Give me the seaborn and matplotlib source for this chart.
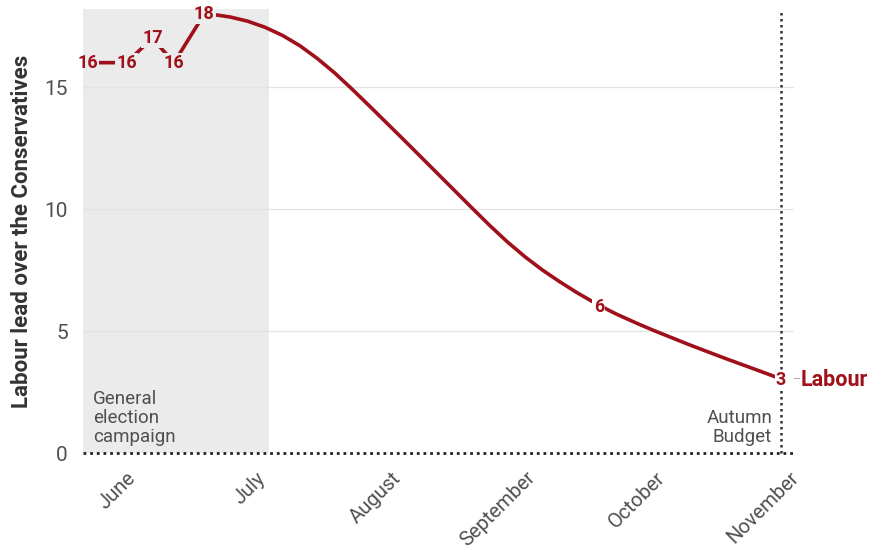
import matplotlib
matplotlib.use("Agg")
import matplotlib.pyplot as plt
import seaborn as sns
import pandas as pd

# ---- data ----
dates = ["2024-05-23", "2024-06-01", "2024-06-07", "2024-06-12", "2024-06-19",
         "2024-06-22", "2024-06-25", "2024-06-29", "2024-07-03", "2024-07-07",
         "2024-07-11", "2024-07-15", "2024-07-19", "2024-07-23", "2024-07-27",
         "2024-07-31", "2024-08-04", "2024-08-08", "2024-08-12", "2024-08-16",
         "2024-08-20", "2024-08-24", "2024-08-28", "2024-09-01", "2024-09-05",
         "2024-09-09", "2024-09-13", "2024-09-18", "2024-09-22", "2024-09-27",
         "2024-10-01", "2024-10-09", "2024-10-17", "2024-10-25", "2024-10-30"]
lead = [16, 16, 17, 16, 18,
        17.95, 17.87, 17.70, 17.45, 17.12,
        16.70, 16.18, 15.59, 14.93, 14.24,
        13.54, 12.84, 12.13, 11.42, 10.71,
        10.0, 9.30, 8.64, 8.04, 7.50,
        7.02, 6.57, 6.06, 5.70, 5.30,
        5.0, 4.43, 3.89, 3.37, 3.04]
label_dates = ["2024-05-23", "2024-06-01", "2024-06-07", "2024-06-12",
               "2024-06-19", "2024-09-18", "2024-10-30"]
label_values = [16, 16, 17, 16, 18, 6, 3]
month_ticks = ["2024-06-01", "2024-07-01", "2024-08-01", "2024-09-01",
               "2024-10-01", "2024-11-01"]
month_labels = ["June", "July", "August", "September", "October", "November"]
campaign_start = "2024-05-22"
campaign_end = "2024-07-04"
budget_date = "2024-10-30"
x_start, x_end = "2024-05-22", "2024-11-02"
y_ticks = [0, 5, 10, 15]
series_name = "Labour"
y_title = "Labour lead over the Conservatives"

RED = "#a0101a"
GREY_BG = "#ebebeb"
TXT = "#505050"

sns.set_theme(style="white")
plt.rcParams["font.family"] = ["Roboto", "DejaVu Sans"]

df = pd.DataFrame({"date": pd.to_datetime(dates), "lead": lead})

fig = plt.figure(figsize=(8.69, 5.52), dpi=100)
ax = fig.add_axes([0.0955, 0.1793, 0.818, 0.8044])

ax.axvspan(pd.Timestamp(campaign_start), pd.Timestamp(campaign_end),
           color=GREY_BG, zorder=0, lw=0)
for yv in y_ticks[1:]:
    ax.axhline(yv, color="#e3e3e3", lw=0.9, zorder=0.5)

sns.lineplot(data=df, x="date", y="lead", ax=ax, color=RED, lw=2.6,
             zorder=3, legend=False)
for ln in ax.get_lines():
    ln.set_solid_joinstyle("round")
    ln.set_solid_capstyle("round")

ax.axhline(0, color="#222222", lw=2.0, ls=(0, (1, 1.4)), zorder=4, clip_on=False)
ax.axvline(pd.Timestamp(budget_date), color="#333333", lw=1.8,
           ls=(0, (1, 1.4)), zorder=2, clip_on=False)

LBL_FS = 13
for d, v in zip(label_dates, label_values):
    ts = pd.Timestamp(d)
    if ts == pd.Timestamp(budget_date):
        fc, pad = "white", 0.02
    elif ts < pd.Timestamp(campaign_end):
        fc, pad = GREY_BG, 0.06
    else:
        fc, pad = "white", 0.08
    # background patch (clipped to the axes so it never spills outside)
    ax.text(ts, v, str(v), color="none", fontsize=LBL_FS, fontweight="bold",
            ha="center", va="center", zorder=5, clip_on=True,
            bbox=dict(boxstyle=f"square,pad={pad}", fc=fc, ec="none"))
    ax.text(ts, v, str(v), color=RED, fontsize=LBL_FS, fontweight="bold",
            ha="center", va="center", zorder=6, clip_on=False)

ax.annotate("–", xy=(pd.Timestamp(budget_date), label_values[-1]),
            xytext=(11, 0), textcoords="offset points", color="#aaaaaa",
            fontsize=9, ha="center", va="center", annotation_clip=False)
ax.annotate(series_name, xy=(pd.Timestamp(budget_date), label_values[-1]),
            xytext=(14, 0), textcoords="offset points", color=RED,
            fontsize=15.5, fontweight="bold", ha="left", va="center",
            annotation_clip=False)

ax.text(pd.Timestamp(campaign_start) + pd.Timedelta(days=2.3), 0.3,
        "General\nelection\ncampaign", color=TXT, fontsize=13.5,
        ha="left", va="bottom", linespacing=1.05, zorder=5)
ax.text(pd.Timestamp(budget_date) - pd.Timedelta(days=2.0), 0.3,
        "Autumn\nBudget", color=TXT, fontsize=13.5,
        ha="right", va="bottom", linespacing=1.05, multialignment="right",
        zorder=5)

ax.set_xlim(pd.Timestamp(x_start), pd.Timestamp(x_end))
ax.set_ylim(0, 18.2)
ax.set_yticks(y_ticks)
ax.set_yticklabels([str(t) for t in y_ticks], fontsize=15, color=TXT)
ax.set_xticks(pd.to_datetime(month_ticks))
ax.set_xticklabels(month_labels, fontsize=14.5, color=TXT, rotation=45,
                   ha="right", va="top", rotation_mode="anchor")
ax.tick_params(axis="y", length=8, width=0.8, color="#dddddd", pad=3)
ax.tick_params(axis="x", length=8, width=0.8, color="#dddddd", pad=3)
ax.set_xlabel("")
ax.set_ylabel(y_title, fontsize=16, fontweight="bold", color="#333333",
              labelpad=8)
for s in ax.spines.values():
    s.set_visible(False)

fig.savefig("out.png", dpi=100, facecolor="white")
